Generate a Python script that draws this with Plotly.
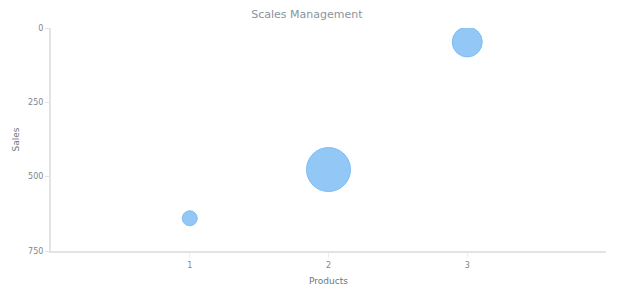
import plotly.graph_objects as go

products = [1, 2, 3]
sales = [640, 476, 47]
bubble_size = [15, 44, 30]

x_ticks = [1, 2, 3]
y_ticks = [0, 250, 500, 750]

fig = go.Figure()
fig.add_trace(go.Scatter(
    x=products, y=sales, mode="markers",
    marker=dict(size=bubble_size, sizemode="diameter", sizeref=1,
                color="#93c8f6", opacity=1,
                line=dict(color="#7dbdf4", width=1)),
    hoverinfo="skip", showlegend=False,
))

font_family = "DejaVu Sans"
grey = "#7c868e"
fig.update_layout(
    width=620, height=300,
    margin=dict(l=51, r=14, t=28, b=49),
    paper_bgcolor="white", plot_bgcolor="white",
    title=dict(text="Scales Management", x=0.495, xanchor="center", y=0.953, yanchor="middle",
               font=dict(family=font_family, size=11, color="#8a949c")),
    font=dict(family=font_family, color=grey),
    xaxis=dict(range=[0, 4], tickvals=x_ticks, showgrid=False, zeroline=False,
               showline=True, linecolor="#e3e3e3", linewidth=2, ticks="outside",
               ticklen=5, tickcolor="#ececec", tickwidth=1,
               tickfont=dict(size=8, color=grey),
               title=dict(text="Products", font=dict(size=9, color="#6d767d"), standoff=9)),
    yaxis=dict(range=[750, 0], tickvals=y_ticks, showgrid=False, zeroline=False,
               showline=True, linecolor="#e3e3e3", linewidth=2, ticks="outside",
               ticklen=4, tickcolor="#e3e3e3", tickwidth=1,
               tickfont=dict(size=8, color=grey),
               title=dict(text="Sales", font=dict(size=9, color="#6d767d"), standoff=7)),
)

fig.write_html("out.html")
